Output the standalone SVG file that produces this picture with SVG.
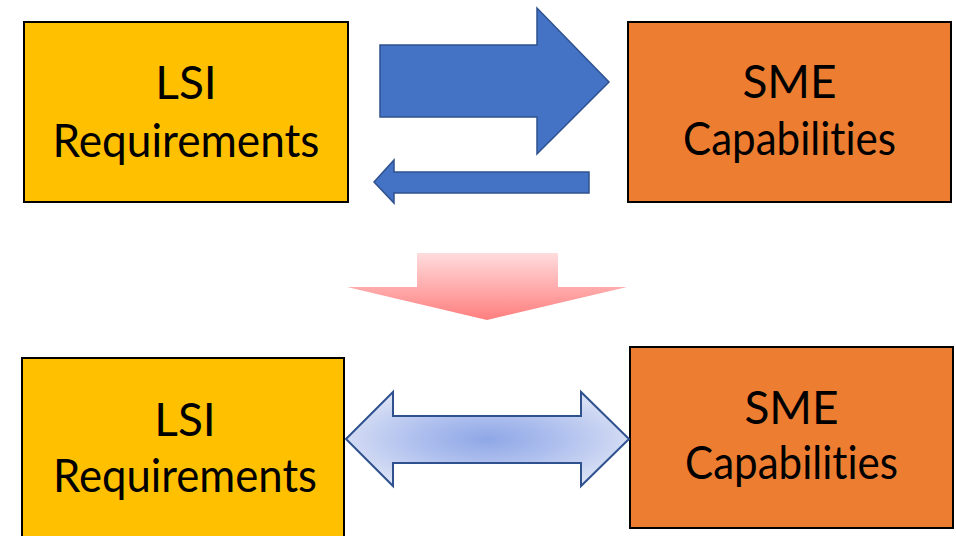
<svg xmlns="http://www.w3.org/2000/svg" width="956" height="536" viewBox="0 0 956 536">
  <style>
    .box { stroke: #000; stroke-width: 2; }
    .lsi { fill: #FFC000; }
    .sme { fill: #ED7D31; }
    .lbl { font-family: Lato, "Open Sans", sans-serif; font-size: 46px; fill: #000; text-anchor: middle; font-variant-ligatures: none; font-feature-settings: "liga" 0; }
    .blue { fill: #4472C4; stroke: #2F528F; stroke-width: 1.5; stroke-linejoin: miter; }
    .dbl { fill: url(#rg); stroke: #2F528F; stroke-width: 2; }
  </style>
  <defs>
    <linearGradient id="pg" x1="0" y1="0" x2="0" y2="1">
      <stop offset="0" stop-color="#FFDCDD"/>
      <stop offset="1" stop-color="#FF7E7E"/>
    </linearGradient>
    <radialGradient id="rg" cx="0.5" cy="0.5" r="0.55">
      <stop offset="0" stop-color="#8EA7E6"/>
      <stop offset="0.45" stop-color="#AEBFEE"/>
      <stop offset="1" stop-color="#DAE1F5"/>
    </radialGradient>
  </defs>
  <rect width="956" height="536" fill="#fff"/>

  <g id="lsi-top">
    <rect class="box lsi" x="24" y="22" width="324" height="180"/>
    <text class="lbl" x="186" y="99">LSI</text>
    <text class="lbl" x="186" y="157" textLength="267" lengthAdjust="spacingAndGlyphs">Requirements</text>
  </g>
  <g id="sme-top">
    <rect class="box sme" x="628" y="22" width="323" height="180"/>
    <text class="lbl" x="789.5" y="98">SME</text>
    <text class="lbl" x="789.5" y="155" textLength="213" lengthAdjust="spacingAndGlyphs">Capabilities</text>
  </g>
  <g id="lsi-bottom">
    <rect class="box lsi" x="22" y="358" width="322" height="190"/>
    <text class="lbl" x="185" y="436">LSI</text>
    <text class="lbl" x="185" y="492" textLength="264" lengthAdjust="spacingAndGlyphs">Requirements</text>
  </g>
  <g id="sme-bottom">
    <rect class="box sme" x="630" y="347" width="323" height="181"/>
    <text class="lbl" x="791.5" y="424">SME</text>
    <text class="lbl" x="791.5" y="479" textLength="213" lengthAdjust="spacingAndGlyphs">Capabilities</text>
  </g>

  <g id="connectors">
    <polygon class="blue" points="380,45 537,45 537,8 609,82 537,154 537,117 380,117"/>
    <polygon class="blue" points="589,172 394,172 394,160 374,182 394,203 394,193 589,193"/>
    <polygon fill="url(#pg)" points="417,253 558,253 558,287 627,287 487,320 347,287 417,287"/>
    <polygon class="dbl" points="346,439 393,392 393,416 581,416 581,392 629,439 581,486 581,463 393,463 393,486"/>
  </g>
</svg>
